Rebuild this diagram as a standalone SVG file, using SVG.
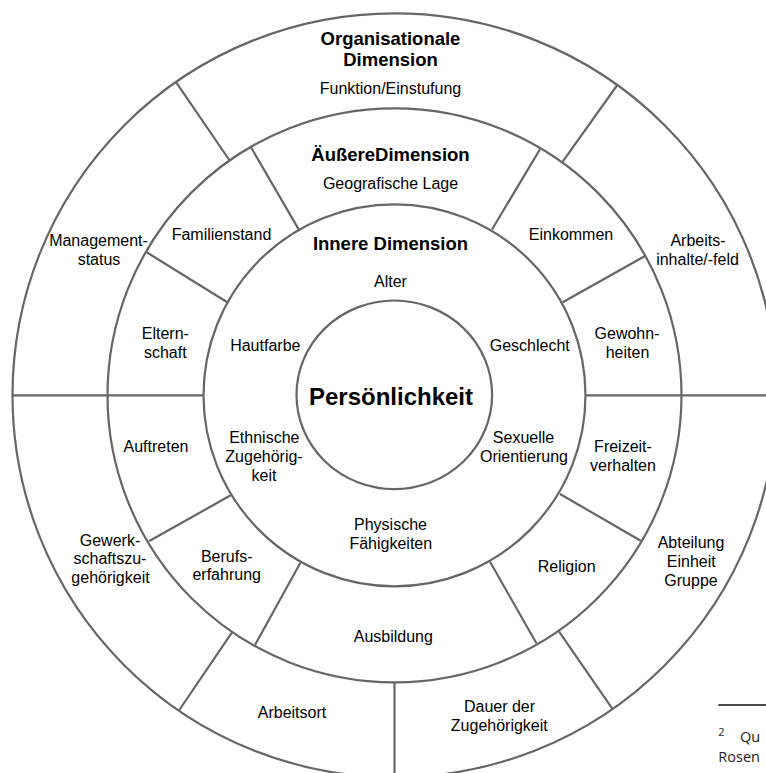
<svg xmlns="http://www.w3.org/2000/svg" width="766" height="773" viewBox="0 0 766 773">
<style>
.ring{fill:none;stroke:#666;stroke-width:2.2}
.div line{stroke:#666;stroke-width:2.2;stroke-linecap:butt}
text{font-family:"Liberation Sans",Arial,sans-serif;fill:#000;text-anchor:middle}
.l{font-size:16px}
.h{font-size:18.5px;font-weight:bold}
.core{font-size:24px;font-weight:bold}
.fn{font-family:"Open Sans","DejaVu Sans",sans-serif;font-size:14.5px;fill:#222;text-anchor:start}
</style>
<rect width="766" height="773" fill="#fff"/>
<g id="ring-organisational">
<circle class="ring" cx="394.5" cy="395.3" r="382"/>
<text class="h" x="390.5" y="45">Organisationale</text>
<text class="h" x="390.5" y="66">Dimension</text>
<text class="l" x="390.5" y="94">Funktion/Einstufung</text>
</g>
<g id="ring-aeussere">
<circle class="ring" cx="394.5" cy="395.3" r="287"/>
<text class="h" x="390.5" y="161">ÄußereDimension</text>
<text class="l" x="390.5" y="189">Geografische Lage</text>
</g>
<g id="ring-innere">
<circle class="ring" cx="394.5" cy="395.3" r="191"/>
<text class="h" x="390.5" y="250">Innere Dimension</text>
<text class="l" x="390.5" y="287">Alter</text>
</g>
<g id="core">
<ellipse class="ring" cx="394.3" cy="394.8" rx="97.8" ry="94.3"/>
<text class="core" x="391" y="405">Persönlichkeit</text>
</g>
<g id="connectors" class="div">
<line x1="12" y1="395.3" x2="203.3" y2="395.3"/>
<line x1="585.3" y1="395.3" x2="766" y2="395.3"/>
<line x1="394.5" y1="682.3" x2="394.5" y2="773"/>
<line x1="175.7" y1="81.7" x2="229.3" y2="160"/>
<line x1="617.3" y1="85" x2="562.7" y2="161.7"/>
<line x1="232" y1="632.3" x2="179.3" y2="710"/>
<line x1="558.4" y1="630.7" x2="612.1" y2="708.3"/>
<line x1="251" y1="147.3" x2="299" y2="229.9"/>
<line x1="540" y1="149.3" x2="492" y2="229.5"/>
<line x1="146.7" y1="252.3" x2="227.3" y2="302.3"/>
<line x1="645" y1="256" x2="562.7" y2="302.3"/>
<line x1="230.7" y1="495.3" x2="149.3" y2="541"/>
<line x1="560" y1="494" x2="640.7" y2="540.7"/>
<line x1="300.4" y1="562.7" x2="255" y2="645"/>
<line x1="490" y1="561.7" x2="536.4" y2="643.3"/>
</g>
<g id="managementstatus"><text class="l" x="98.5" y="246">Management-</text><text class="l" x="99" y="265">status</text></g>
<g id="familienstand"><text class="l" x="221.5" y="239.5">Familienstand</text></g>
<g id="einkommen"><text class="l" x="571" y="239.5">Einkommen</text></g>
<g id="arbeitsinhalte"><text class="l" x="698" y="246">Arbeits-</text><text class="l" x="697.5" y="265">inhalte/-feld</text></g>
<g id="elternschaft"><text class="l" x="165.3" y="338.5">Eltern-</text><text class="l" x="165.3" y="357.7">schaft</text></g>
<g id="hautfarbe"><text class="l" x="265.3" y="350.7">Hautfarbe</text></g>
<g id="geschlecht"><text class="l" x="529.8" y="350.7">Geschlecht</text></g>
<g id="gewohnheiten"><text class="l" x="627" y="338.5">Gewohn-</text><text class="l" x="627.5" y="357.7">heiten</text></g>
<g id="ethnische"><text class="l" x="264.3" y="442.7">Ethnische</text><text class="l" x="264" y="461.7">Zugehörig-</text><text class="l" x="264" y="480.7">keit</text></g>
<g id="sexuelle"><text class="l" x="523.5" y="442.7">Sexuelle</text><text class="l" x="524" y="461.7">Orientierung</text></g>
<g id="auftreten"><text class="l" x="156" y="451.7">Auftreten</text></g>
<g id="freizeit"><text class="l" x="623" y="451.7">Freizeit-</text><text class="l" x="623" y="470.7">verhalten</text></g>
<g id="physische"><text class="l" x="390.5" y="530">Physische</text><text class="l" x="390.8" y="548.5">Fähigkeiten</text></g>
<g id="gewerkschaft"><text class="l" x="110" y="545.7">Gewerk-</text><text class="l" x="110" y="564.3">schaftszu-</text><text class="l" x="110.5" y="582.7">gehörigkeit</text></g>
<g id="berufserfahrung"><text class="l" x="226.7" y="561.7">Berufs-</text><text class="l" x="226.7" y="580">erfahrung</text></g>
<g id="religion"><text class="l" x="566.7" y="571.7">Religion</text></g>
<g id="abteilung"><text class="l" x="691" y="548.3">Abteilung</text><text class="l" x="691.3" y="567">Einheit</text><text class="l" x="691" y="585.5">Gruppe</text></g>
<g id="ausbildung"><text class="l" x="393.3" y="641.7">Ausbildung</text></g>
<g id="arbeitsort"><text class="l" x="292" y="717.7">Arbeitsort</text></g>
<g id="dauer"><text class="l" x="499.5" y="711.7">Dauer der</text><text class="l" x="499.3" y="730.7">Zugehörigkeit</text></g>
<g id="footnote">
<line x1="718.3" y1="705" x2="766" y2="705" stroke="#111" stroke-width="1.3"/>
<text class="fn" x="718.3" y="736" style="font-size:11px">2</text>
<text class="fn" x="740" y="742">Qu</text>
<text class="fn" x="718.3" y="762">Rosen</text>
</g>
</svg>
